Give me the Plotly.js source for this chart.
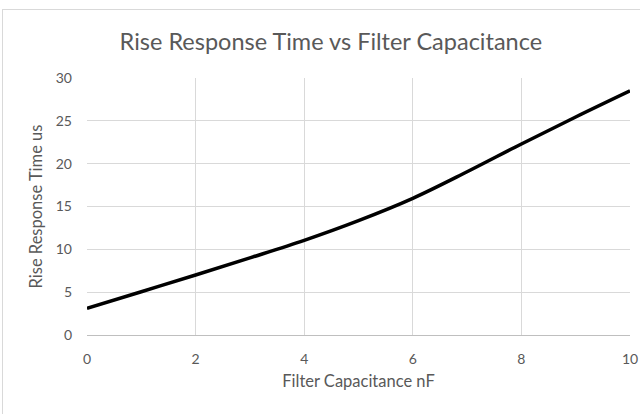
<!DOCTYPE html>
<html>
<head>
<meta charset="utf-8">
<script src="https://cdn.plot.ly/plotly-3.0.1.min.js"></script>
<style>
html,body{margin:0;padding:0;background:#fff;}
#wrap{position:relative;width:640px;height:414px;overflow:hidden;}
#frame{position:absolute;left:2px;top:9px;width:700px;height:500px;border:1px solid #d9d9d9;box-sizing:border-box;pointer-events:none;}
#chart{position:absolute;left:0;top:0;width:640px;height:414px;}
</style>
</head>
<body>
<div id="wrap">
<div id="chart"></div>
<div id="frame"></div>
</div>
<script>
const capacitanceNF = [0, 1, 2, 3, 4, 5, 6, 7, 8, 9, 10];
const riseTimeUs = [3.1, 5.05, 7.0, 9.0, 11.05, 13.35, 15.95, 19.05, 22.3, 25.45, 28.5];
const xTicks = [0, 2, 4, 6, 8, 10];
const yTicks = [0, 5, 10, 15, 20, 25, 30];

const font = "Lato, 'Open Sans', sans-serif";
const textColor = "#595959";

Plotly.newPlot("chart", [{
  x: capacitanceNF,
  y: riseTimeUs,
  type: "scatter",
  mode: "lines",
  line: {color: "#000000", width: 3.5, shape: "spline", smoothing: 1},
  hoverinfo: "skip",
  showlegend: false
}], {
  width: 640,
  height: 414,
  margin: {l: 87, r: 10, t: 78, b: 79},
  paper_bgcolor: "rgba(0,0,0,0)",
  plot_bgcolor: "#ffffff",
  font: {family: font, color: textColor, size: 14},
  title: {
    text: "Rise Response Time vs Filter Capacitance",
    font: {family: font, size: 23.5, color: textColor},
    x: 0.517, xanchor: "center",
    y: 0.9, yanchor: "middle",
    xref: "container", yref: "container"
  },
  xaxis: {
    range: [0, 10],
    tickvals: xTicks,
    ticktext: xTicks.map(String),
    showgrid: true, gridcolor: "#d9d9d9", gridwidth: 1,
    zeroline: false,
    showline: true, linecolor: "#bfbfbf", linewidth: 1,
    ticks: "", ticklabelstandoff: 11,
    tickfont: {family: font, size: 14, color: textColor},
    title: {text: "Filter Capacitance nF", font: {family: font, size: 16.5, color: textColor}, standoff: 9}
  },
  yaxis: {
    range: [0, 30],
    tickvals: yTicks,
    ticktext: yTicks.map(String),
    showgrid: true, gridcolor: "#d9d9d9", gridwidth: 1,
    zeroline: false,
    showline: false,
    ticks: "", ticklabelstandoff: 14,
    tickfont: {family: font, size: 14, color: textColor},
    title: {text: "Rise Response Time us", font: {family: font, size: 16.5, color: textColor}, standoff: 8}
  }
}, {displayModeBar: false, staticPlot: true});
</script>
</body>
</html>
